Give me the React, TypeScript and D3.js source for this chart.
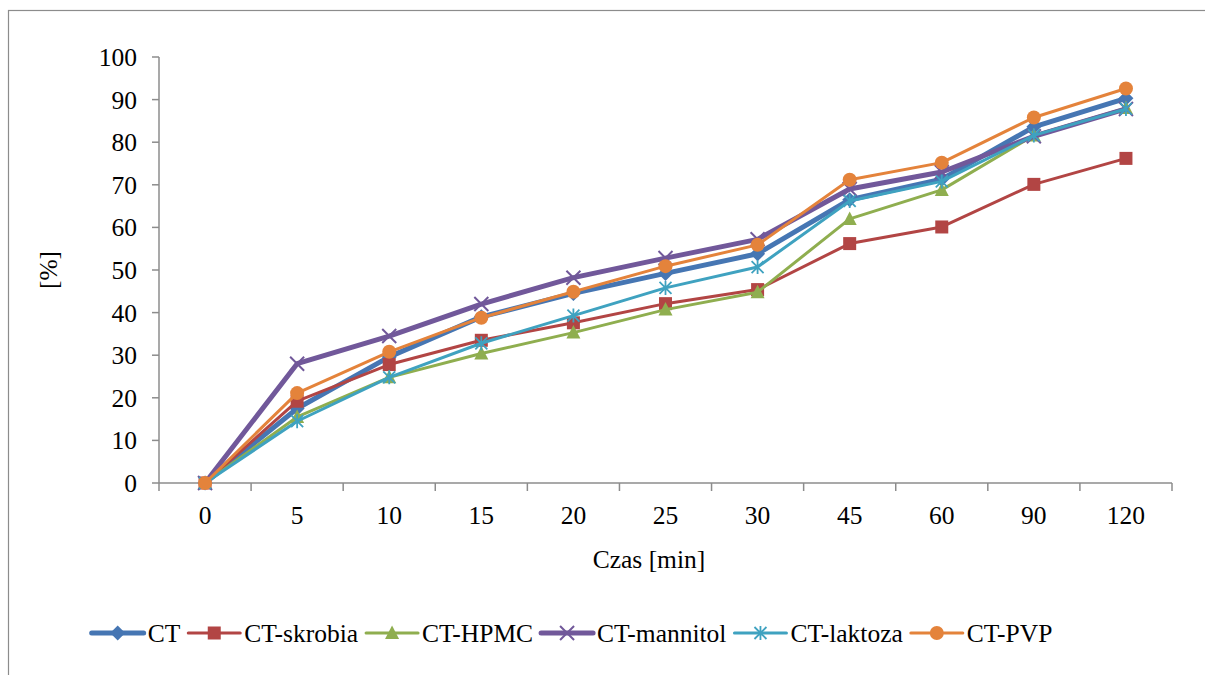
import React, { useMemo } from "react";
import * as d3 from "d3";

// Dissolution time points (categorical axis) and released fraction [%]
const categories = ["0", "5", "10", "15", "20", "25", "30", "45", "60", "90", "120"];
const yTicks = [0, 10, 20, 30, 40, 50, 60, 70, 80, 90, 100];

const ct = [0, 17.5, 29.6, 39, 44.5, 49.2, 53.8, 66.5, 71.3, 83.6, 90.3];
const ctSkrobia = [0, 19.2, 27.8, 33.5, 37.6, 42.1, 45.4, 56.2, 60.1, 70.1, 76.2];
const ctHpmc = [0, 15.5, 24.8, 30.4, 35.3, 40.7, 44.8, 62, 68.8, 81.6, 88];
const ctMannitol = [0, 28, 34.5, 42, 48.2, 52.8, 57.2, 69, 73, 81.4, 87.8];
const ctLaktoza = [0, 14.5, 24.8, 32.8, 39.3, 45.8, 50.7, 66.2, 70.8, 81.6, 87.8];
const ctPvp = [0, 21.1, 30.8, 38.8, 44.9, 50.9, 55.9, 71.2, 75.2, 85.8, 92.6];

type Marker = "diamond" | "square" | "triangle" | "x" | "asterisk" | "circle";

const series: { name: string; values: number[]; color: string; width: number; marker: Marker }[] = [
  { name: "CT", values: ct, color: "#4676B3", width: 5, marker: "diamond" },
  { name: "CT-skrobia", values: ctSkrobia, color: "#B24544", width: 3, marker: "square" },
  { name: "CT-HPMC", values: ctHpmc, color: "#8FAE4F", width: 3, marker: "triangle" },
  { name: "CT-mannitol", values: ctMannitol, color: "#71589A", width: 5, marker: "x" },
  { name: "CT-laktoza", values: ctLaktoza, color: "#3FA2C0", width: 3, marker: "asterisk" },
  { name: "CT-PVP", values: ctPvp, color: "#E4833B", width: 3, marker: "circle" },
];

const FONT = "'Liberation Serif', 'Times New Roman', serif";
const FS = 25.5;
const AXIS = "#8C8C8C";

function MarkerShape({ type, x, y, color }: { type: Marker; x: number; y: number; color: string }) {
  switch (type) {
    case "diamond":
      return <path d={`M${x},${y - 7.5}L${x + 7.5},${y}L${x},${y + 7.5}L${x - 7.5},${y}Z`} fill={color} />;
    case "square":
      return <rect x={x - 6.5} y={y - 6.5} width={13} height={13} fill={color} />;
    case "triangle":
      return <path d={`M${x},${y - 7.5}L${x + 7},${y + 6}L${x - 7},${y + 6}Z`} fill={color} />;
    case "circle":
      return <circle cx={x} cy={y} r={7} fill={color} />;
    case "x":
      return (
        <path
          d={`M${x - 7},${y - 7}L${x + 7},${y + 7}M${x - 7},${y + 7}L${x + 7},${y - 7}`}
          stroke={color}
          strokeWidth={2}
          fill="none"
        />
      );
    case "asterisk":
      return (
        <path
          d={`M${x - 6},${y - 6}L${x + 6},${y + 6}M${x - 6},${y + 6}L${x + 6},${y - 6}M${x},${y - 7}L${x},${y + 7}`}
          stroke={color}
          strokeWidth={1.8}
          fill="none"
        />
      );
  }
  return null;
}

function measure(text: string): number {
  if (typeof document === "undefined") return text.length * 11;
  const c = document.createElement("canvas").getContext("2d");
  if (!c) return text.length * 11;
  c.font = `${FS}px ${FONT}`;
  return c.measureText(text).width;
}

export default function App() {
  const W = 1205;
  const H = 675;
  const left = 159;
  const right = 1172;
  const top = 57;
  const bottom = 483;

  const x = d3.scaleBand<string>().domain(categories).range([left, right]).padding(0);
  const y = d3.scaleLinear().domain([0, 100]).range([bottom, top]);
  const cx = (c: string) => (x(c) as number) + x.bandwidth() / 2;

  const line = d3
    .line<number>()
    .x((_, i) => cx(categories[i]))
    .y((d) => y(d));

  // Legend flow layout: sample line, label, small gap
  const legend = useMemo(() => {
    const lineLen = 52;
    const gapText = 4;
    const gapItem = 8;
    const widths = series.map((s) => measure(s.name));
    const total = widths.reduce((a, w) => a + lineLen + gapText + w, 0) + gapItem * (series.length - 1);
    let pos = 572 - total / 2;
    return series.map((s, i) => {
      const item = { s, x0: pos, tx: pos + lineLen + gapText };
      pos += lineLen + gapText + widths[i] + gapItem;
      return item;
    });
  }, []);

  const legendY = 633;

  return (
    <div style={{ position: "fixed", left: 0, top: 0 }}>
      <svg width={W} height={H} style={{ display: "block", background: "#fff" }} fontFamily={FONT}>
        <rect x={8.5} y={10.5} width={1220} height={700} fill="#fff" stroke={AXIS} strokeWidth={1.2} />

        {/* y axis */}
        <line x1={left} x2={left} y1={top} y2={bottom} stroke={AXIS} strokeWidth={1.5} />
        {yTicks.map((t) => (
          <g key={t}>
            <line x1={left - 7} x2={left} y1={y(t)} y2={y(t)} stroke={AXIS} strokeWidth={1.5} />
            <text x={137} y={y(t)} dy="0.35em" textAnchor="end" fontSize={FS} fill="#000">
              {t}
            </text>
          </g>
        ))}

        {/* x axis */}
        <line x1={left} x2={right} y1={bottom} y2={bottom} stroke={AXIS} strokeWidth={1.5} />
        {categories.map((c) => (
          <line
            key={"t" + c}
            x1={x(c) as number}
            x2={x(c) as number}
            y1={bottom}
            y2={bottom + 8}
            stroke={AXIS}
            strokeWidth={1.5}
          />
        ))}
        <line x1={right} x2={right} y1={bottom} y2={bottom + 8} stroke={AXIS} strokeWidth={1.5} />
        {categories.map((c) => (
          <text key={"l" + c} x={cx(c)} y={524} textAnchor="middle" fontSize={FS} fill="#000">
            {c}
          </text>
        ))}

        <text x={649} y={568} textAnchor="middle" fontSize={FS} fill="#000">
          Czas [min]
        </text>
        <text transform={`translate(57,270) rotate(-90)`} textAnchor="middle" fontSize={FS} fill="#000">
          [%]
        </text>

        {/* series */}
        {series.map((s) => (
          <g key={s.name}>
            <path
              d={line(s.values) || ""}
              fill="none"
              stroke={s.color}
              strokeWidth={s.width}
              strokeLinejoin="round"
              strokeLinecap="round"
            />
            {s.values.map((v, i) => (
              <MarkerShape key={i} type={s.marker} x={cx(categories[i])} y={y(v)} color={s.color} />
            ))}
          </g>
        ))}

        {/* legend */}
        {legend.map(({ s, x0, tx }) => (
          <g key={"lg" + s.name}>
            <line
              x1={x0}
              x2={x0 + 52}
              y1={legendY}
              y2={legendY}
              stroke={s.color}
              strokeWidth={s.width}
              strokeLinecap="round"
            />
            <MarkerShape type={s.marker} x={x0 + 26} y={legendY} color={s.color} />
            <text x={tx} y={legendY} dy="0.35em" fontSize={FS} fill="#000">
              {s.name}
            </text>
          </g>
        ))}
      </svg>
    </div>
  );
}
